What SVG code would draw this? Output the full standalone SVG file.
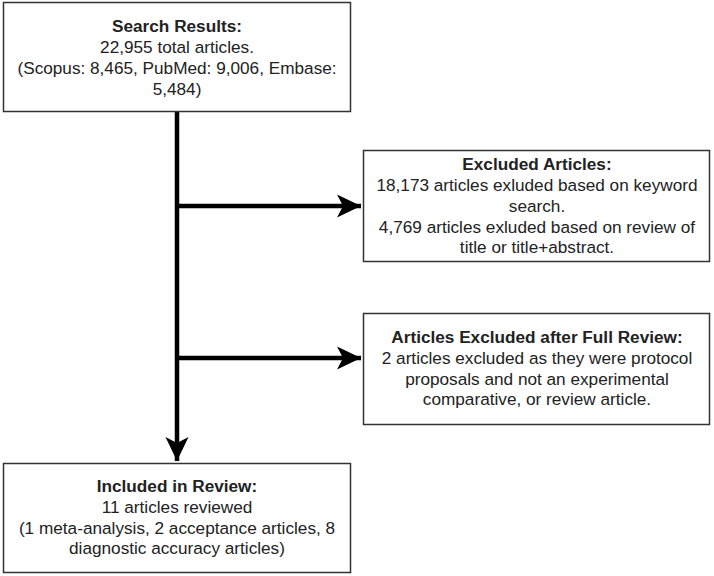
<svg xmlns="http://www.w3.org/2000/svg" width="714" height="576" viewBox="0 0 714 576">
<style>
.box{fill:#fff;stroke:#333;stroke-width:1.5}
text{font-family:"Liberation Sans",Arial,sans-serif;font-size:17.2px;fill:#222;text-anchor:middle}
.b{font-weight:bold}
.conn{stroke:#000;stroke-width:4.5;fill:none}
</style>
<defs>
<marker id="ah" markerUnits="userSpaceOnUse" markerWidth="26" markerHeight="26" viewBox="0 0 26 26" refX="24" refY="13" orient="auto">
<path d="M0,1.5 L24,13 L0,24.5 L6,13 Z" fill="#000"/>
</marker>
</defs>
<rect width="714" height="576" fill="#fff"/>
<g id="connectors">
<path class="conn" d="M177,112 V461" marker-end="url(#ah)"/>
<path class="conn" d="M177,206 H361" marker-end="url(#ah)"/>
<path class="conn" d="M177,358 H361" marker-end="url(#ah)"/>
</g>
<g id="search">
<rect class="box" x="3.5" y="2.5" width="347" height="109"/>
<text x="177" y="32" class="b">Search Results:</text>
<text x="177" y="53">22,955 total articles.</text>
<text x="177" y="74">(Scopus: 8,465, PubMed: 9,006, Embase:</text>
<text x="177" y="95">5,484)</text>
</g>
<g id="excluded">
<rect class="box" x="363.5" y="150.5" width="346" height="111"/>
<text x="537" y="170" class="b">Excluded Articles:</text>
<text x="537" y="191">18,173 articles exluded based on keyword</text>
<text x="537" y="212">search.</text>
<text x="537" y="233">4,769 articles exluded based on review of</text>
<text x="537" y="253">title or title+abstract.</text>
</g>
<g id="fullreview">
<rect class="box" x="363.5" y="313.5" width="346" height="111"/>
<text x="537" y="343" class="b">Articles Excluded after Full Review:</text>
<text x="537" y="364">2 articles excluded as they were protocol</text>
<text x="537" y="385">proposals and not an experimental</text>
<text x="537" y="405">comparative, or review article.</text>
</g>
<g id="included">
<rect class="box" x="3.5" y="463.5" width="347" height="109"/>
<text x="177" y="492" class="b">Included in Review:</text>
<text x="177" y="513">11 articles reviewed</text>
<text x="177" y="534">(1 meta-analysis, 2 acceptance articles, 8</text>
<text x="177" y="554">diagnostic accuracy articles)</text>
</g>
</svg>
